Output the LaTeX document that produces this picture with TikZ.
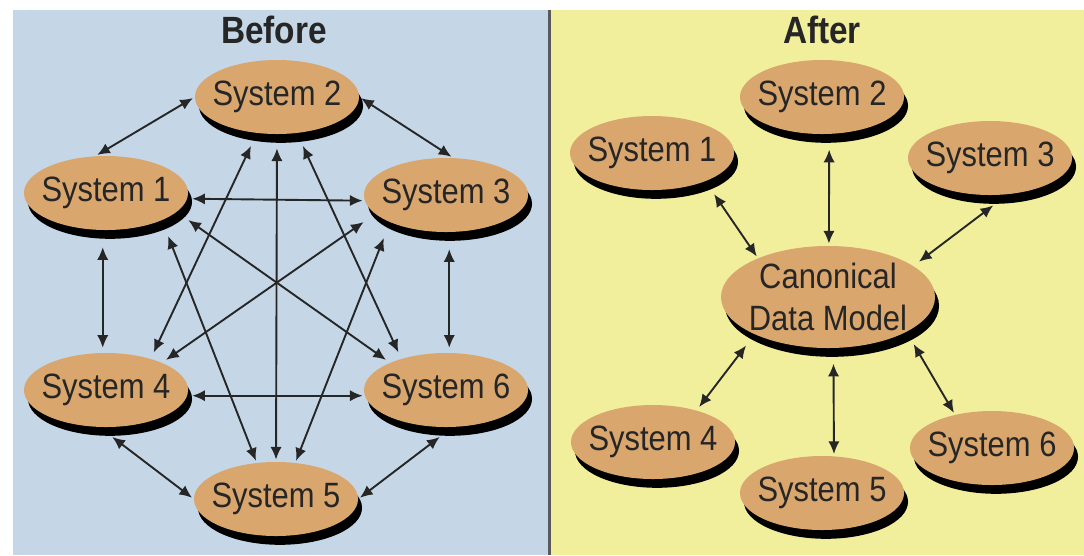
\documentclass[tikz,border=0pt]{standalone}
\usepackage{fontspec}
\usetikzlibrary{shapes.geometric,shadows,arrows.meta}
\newfontfamily\sysfont[FakeStretch=0.88]{Liberation Sans}
\newfontfamily\titlefont[FakeStretch=0.88]{Liberation Sans Bold}
\definecolor{beforebg}{HTML}{C5D7E7}
\definecolor{afterbg}{HTML}{F2EF9C}
\definecolor{systan}{HTML}{D9A66D}
\definecolor{divider}{HTML}{5A5A5A}
\definecolor{ink}{HTML}{262626}
\tikzset{
  sys/.style={ellipse, fill=systan, minimum width=4.1cm, minimum height=1.85cm,
    inner xsep=-10pt, inner ysep=0pt, align=center, text=ink,
    font=\sysfont\fontsize{25}{30}\selectfont,
    drop shadow={shadow xshift=0.1cm, shadow yshift=-0.22cm, fill=black, opacity=1}},
  link/.style={<->, line width=1.35pt, draw=ink, shorten <=1.5pt, shorten >=1.5pt},
  ttl/.style={text=ink, font=\titlefont\fontsize{27}{30}\selectfont}
}
\begin{document}
\begin{tikzpicture}[x=0.025cm, y=-0.025cm, >={Latex[length=9pt,width=8pt]}]
\fill[white] (0,0) rectangle (1084,555);
\fill[beforebg] (13,10) rectangle (548,555);
\fill[divider] (548,10) rectangle (551,555);
\fill[afterbg] (551,10) rectangle (1084,555);

% before
\node[ttl] (before) at (274,30) {Before};
\node[sys] (b1) at (106,193) {System 1};
\node[sys] (b2) at (277,97) {System 2};
\node[sys] (b3) at (446,195) {System 3};
\node[sys] (b4) at (106,390) {System 4};
\node[sys] (b5) at (276,499) {System 5};
\node[sys] (b6) at (446,390) {System 6};

\draw[link] (b1.106) -- (b2.180);
\draw[link] (b2.0) -- (b3.79);
\draw[link, shorten <=3.5pt] (b1.-4) -- (b3.184);
\draw[link, shorten <=3.5pt] (b4.-4) -- (b6.184);
\draw[link, shorten <=12pt, shorten >=3.5pt] (b1.-95) -- (b4.95);
\draw[link, shorten <=12pt, shorten >=3.5pt] (b3.-85) -- (b6.85);
\draw[link, shorten <=10pt] (b2.-90) -- (b5.90);
\draw[link, shorten <=11.5pt] (b4.-100) -- (b5.180);
\draw[link, shorten >=11.5pt] (b5.0) -- (b6.-80);
\draw[link, shorten <=10pt, shorten >=5pt] (b2.-119) -- (b4.35);
\draw[link, shorten <=10pt, shorten >=5pt] (b2.-61) -- (b6.145);
\draw[link, shorten <=12pt] (b1.-26) -- (b5.118);
\draw[link, shorten <=12pt] (b3.-154) -- (b5.62);
\draw[link, shorten <=10pt, shorten >=3.5pt] (b1.-15) -- (b6.154);
\draw[link, shorten <=10pt, shorten >=3.5pt] (b3.-165) -- (b4.26);

% after
\node[ttl] (after) at (822,30) {After};
\node[sys] (a1) at (652,153) {System 1};
\node[sys] (a2) at (822,97) {System 2};
\node[sys] (a3) at (990,158) {System 3};
\node[sys, minimum width=5.35cm, minimum height=2.55cm, inner xsep=-12pt, inner ysep=-9pt] (cdm) at (828,297) {Canonical\\Data Model};
\node[sys] (a4) at (653,442) {System 4};
\node[sys] (a5) at (822,493) {System 5};
\node[sys] (a6) at (992,448) {System 6};

\draw[link, shorten <=11pt] (a1.-28) -- (cdm.151);
\draw[link, shorten <=11pt] (a2.-79) -- (cdm.89);
\draw[link, shorten <=13pt, shorten >=5pt] (a3.-64) -- (cdm.20);
\draw[link, shorten <=10pt, shorten >=3pt] (cdm.-153) -- (a4.36);
\draw[link, shorten <=11pt] (cdm.-84) -- (a5.72);
\draw[link, shorten <=10pt] (cdm.-24) -- (a6.138);
\end{tikzpicture}
\end{document}
